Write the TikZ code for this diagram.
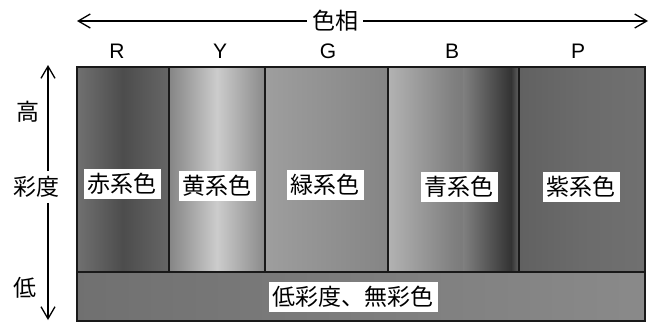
\documentclass[tikz,border=0pt]{standalone}
\usepackage{fontspec}
\newfontfamily\jp{Noto Sans CJK JP}
\newfontfamily\lat{Liberation Sans}
\usetikzlibrary{arrows.meta}
\tikzset{
  col/.style={anchor=north west, inner sep=0pt, outer sep=0pt, minimum height=205pt},
  lbl/.style={fill=white, inner xsep=4pt, inner ysep=4.5pt, font=\jp\fontsize{23}{26}\selectfont},
  axlbl/.style={inner sep=5pt, font=\jp\fontsize{23}{26}\selectfont},
  hue/.style={font=\lat\fontsize{21}{23}\selectfont, inner sep=0pt},
  axarrow/.style={line width=1.3pt, -{Straight Barb[length=12pt,width=14pt,line width=1.3pt]}},
  border/.style={draw=black!90, line width=2.6pt}
}
\begin{document}
\begin{tikzpicture}[x=1pt,y=-1pt]
\useasboundingbox (0,0) rectangle (658,322);
\fill[white] (0,0) rectangle (658,322);
% columns
\node[col, minimum width=92pt, left color=black!56, right color=black!60, middle color=black!70] (red) at (77,67) {};
\node[col, minimum width=96pt, left color=black!48, right color=black!46, middle color=black!20] (yellow) at (169,67) {};
\node[col, minimum width=123pt, left color=black!38, right color=black!48, middle color=black!43] (green) at (265,67) {};
\node[col, minimum width=131pt, left color=black!30, right color=black!62, middle color=black!50] (blue) at (388,67) {};
\node[col, minimum width=126pt, left color=black!62, right color=black!56, middle color=black!58] (purple) at (519,67) {};
\node[col, minimum width=568pt, minimum height=49pt, left color=black!56, right color=black!46] (low) at (77,272) {};
\shade[left color=black!50, right color=black!80] ([xshift=75pt]blue.north west) rectangle ([xshift=-8pt]blue.south east);
\shade[left color=black!80, right color=black!62] ([xshift=-8pt]blue.north east) rectangle (blue.south east);
% borders
\draw[border] (red.north west) rectangle (red.south east);
\draw[border] (yellow.north west) rectangle (yellow.south east);
\draw[border] (green.north west) rectangle (green.south east);
\draw[border] (blue.north west) rectangle (blue.south east);
\draw[border] (purple.north west) rectangle (purple.south east);
\draw[border] (low.north west) rectangle (low.south east);
% labels
\node[lbl] (lred) at (122,184) {赤系色};
\node[lbl] (lyellow) at (217,186) {黄系色};
\node[lbl] (lgreen) at (325,185) {緑系色};
\node[lbl] (lblue) at (459,187) {青系色};
\node[lbl] (lpurple) at (581,187) {紫系色};
\node[lbl] (llow) at (353,297) {低彩度、無彩色};
% hue letters
\node[hue] (R) at (117,51) {R};
\node[hue] (Y) at (220,51) {Y};
\node[hue] (G) at (328,51) {G};
\node[hue] (B) at (452,51) {B};
\node[hue] (P) at (578,51) {P};
% hue arrow
\coordinate (hl) at (77,21);
\coordinate (hr) at (648,21);
\node[axlbl] (hue) at (335,21) {色相};
\draw[axarrow] (hue) -- (hl);
\draw[axarrow] (hue) -- (hr);
% saturation arrow
\coordinate (vt) at (48,65);
\coordinate (vb) at (48,320);
\node[axlbl, inner sep=2pt] (high) at (28,112) {高};
\node[axlbl] (sat) at (36,187) {彩度};
\node[axlbl, inner sep=2pt] (lowl) at (25,288) {低};
\draw[axarrow] (vt |- sat.north) -- (vt);
\draw[axarrow] (vb |- sat.south) -- (vb);
\end{tikzpicture}
\end{document}
